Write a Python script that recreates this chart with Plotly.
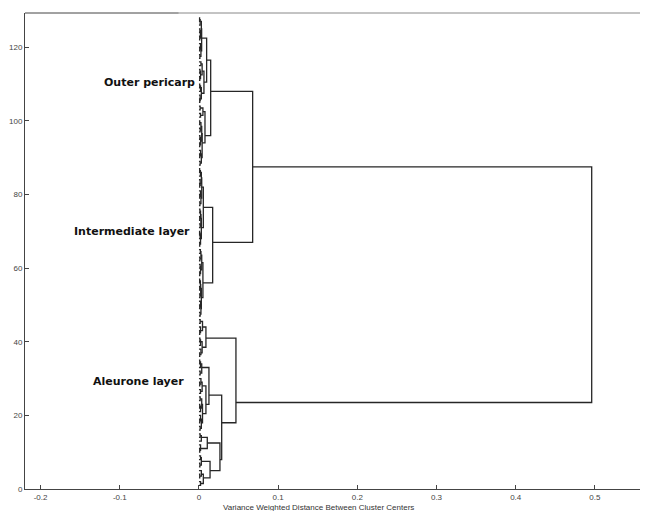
import plotly.graph_objects as go

# ---------------- data: dendrogram tree ----------------
# node = [merge distance, lower child, upper child]; 1 = single leaf (spectrum)
g01 = [0.0055, [0.002, 1, 1], [0.003, [0.001, 1, 1], 1]]
g02 = [0.003, [0.0012, 1, 1], [0.002, 1, 1]]
g03 = [0.002, [0.001, 1, 1], 1]
g04 = [0.003, 1, [0.0015, 1, 1]]
g05 = [0.0045, [0.003, [0.0015, 1, 1], [0.002, [0.001, 1, 1], 1]],
       [0.0035, [0.002, 1, [0.001, 1, 1]], [0.0015, 1, 1]]]
g06 = [0.004, [0.002, 1, 1], [0.0025, [0.001, 1, 1], 1]]
g07 = [0.0035, [0.0015, 1, 1], [0.002, 1, [0.001, 1, 1]]]
g08 = [0.004, [0.0025, [0.001, 1, 1], 1], [0.002, 1, [0.0012, 1, 1]]]
g09 = [0.0045, [0.002, [0.001, 1, 1], 1], [0.0015, 1, 1]]
g10 = [0.003, [0.0025, [0.0015, 1, 1], [0.002, [0.001, 1, 1], 1]],
       [0.0022, [0.0012, 1, 1], [0.0018, [0.001, 1, 1], [0.0009, 1, 1]]]]
g11 = [0.0035, [0.002, [0.001, 1, 1], [0.0015, 1, 1]],
       [0.0025, [0.0012, 1, 1], [0.0018, 1, 1]]]
g12 = [0.003, [0.002, [0.001, 1, 1], [0.0015, 1, [0.0008, 1, 1]]],
       [0.0025, [0.0015, 1, 1], [0.002, [0.001, 1, 1], [0.0012, 1, 1]]]]
g13 = [0.0035, [0.0025, [0.0012, 1, 1], [0.002, [0.001, 1, 1], 1]],
       [0.003, [0.0015, [0.001, 1, 1], 1], [0.0018, 1, [0.0009, 1, 1]]]]
g14 = [0.004, [0.003, [0.0015, 1, 1], [0.002, [0.001, 1, 1], 1]],
       [0.0035, [0.002, [0.001, 1, 1], [0.0012, 1, 1]],
        [0.0025, [0.0015, 1, 1], [0.001, 1, 1]]]]
g15 = [0.005, [0.002, 1, 1], [0.0015, 1, 1]]
g16 = [0.0063, [0.003, [0.0015, [0.001, 1, 1], 1], [0.002, 1, [0.001, 1, 1]]],
       [0.004, [0.002, [0.001, 1, 1], [0.0012, 1, 1]], [0.0025, 1, 1]]]
g17 = [0.0034, [0.0025, [0.0012, 1, 1], [0.002, [0.001, 1, 1], 1]],
       [0.003, [0.0018, [0.001, 1, 1], [0.0012, 1, 1]], [0.0015, 1, [0.0008, 1, 1]]]]

# higher-level merges
aleurone = [0.0467,
            [0.0287, [0.0265, [0.014, g01, g02], [0.0105, g03, g04]],
                     [0.0126, [0.0088, g05, g06], g07]],
            [0.0088, g08, g09]]
intermediate = [0.0173, [0.005, g10, g11], [0.0055, g12, g13]]
outer = [0.0148, [0.0076, g14, g15], [0.0097, g16, g17]]
tree = [0.496, aleurone, [0.0678, intermediate, outer]]

layer_names = ["Outer pericarp", "Intermediate layer", "Aleurone layer"]
layer_label_x = [-0.003, -0.0092, -0.0164]
layer_label_y = [110.4, 69.9, 29.1]

x_ticks = [-0.2, -0.1, 0, 0.1, 0.2, 0.3, 0.4, 0.5]
x_ticktext = ["-0.2", "-0.1", "0", "0.1", "0.2", "0.3", "0.4", "0.5"]
y_ticks = [0, 20, 40, 60, 80, 100, 120]

# ---------------- build dendrogram segments ----------------
xs, ys = [], []
counter = [1]


def walk(node):
    if node == 1:
        p = counter[0]
        counter[0] += 1
        return p, 0.0, [p]
    h, a, b = node
    ya, ha, la = walk(a)
    yb, hb, lb = walk(b)
    leaves = la + lb
    y = sum(leaves) / len(leaves)
    xs.extend([ha, h, h, hb, None])
    ys.extend([ya, ya, yb, yb, None])
    return y, h, leaves


walk(tree)

fig = go.Figure()
fig.add_trace(go.Scatter(x=xs, y=ys, mode="lines",
                         line=dict(color="#262626", width=1.3),
                         hoverinfo="skip", showlegend=False))

for name, lx, ly in zip(layer_names, layer_label_x, layer_label_y):
    fig.add_annotation(x=lx, y=ly, xref="x", yref="y", text="<b>%s</b>" % name,
                       showarrow=False, xanchor="right", yanchor="middle",
                       font=dict(family="DejaVu Sans", size=11, color="#111"))

fig.add_annotation(x=0.478, y=-0.0265, xref="paper", yref="paper",
                   text="Variance Weighted Distance Between Cluster Centers",
                   showarrow=False, xanchor="center", yanchor="top", borderpad=0,
                   font=dict(family="Liberation Sans", size=8, color="#333"))

# top frame line
fig.add_shape(type="line", xref="paper", yref="paper", x0=0, x1=0.25, y0=1, y1=1,
              line=dict(color="#444", width=1))
fig.add_shape(type="line", xref="paper", yref="paper", x0=0.25, x1=1, y0=1, y1=1,
              line=dict(color="#888", width=1))

fig.update_layout(
    width=646, height=511,
    margin=dict(l=25, r=6, t=13, b=22),
    paper_bgcolor="white", plot_bgcolor="white",
    xaxis=dict(range=[-0.2197, 0.557], tickvals=x_ticks, ticktext=x_ticktext,
               ticks="inside", ticklen=4, tickcolor="#444",
               showline=True, linecolor="#444", linewidth=1,
               showgrid=False, zeroline=False, ticklabelstandoff=0,
               tickfont=dict(family="Liberation Sans", size=8, color="#444")),
    yaxis=dict(range=[0, 129.3], tickvals=y_ticks,
               ticks="inside", ticklen=4, tickcolor="#444",
               showline=True, linecolor="#444", linewidth=1,
               showgrid=False, zeroline=False,
               tickfont=dict(family="Liberation Sans", size=8, color="#444")),
)

fig.write_html("out.html")
